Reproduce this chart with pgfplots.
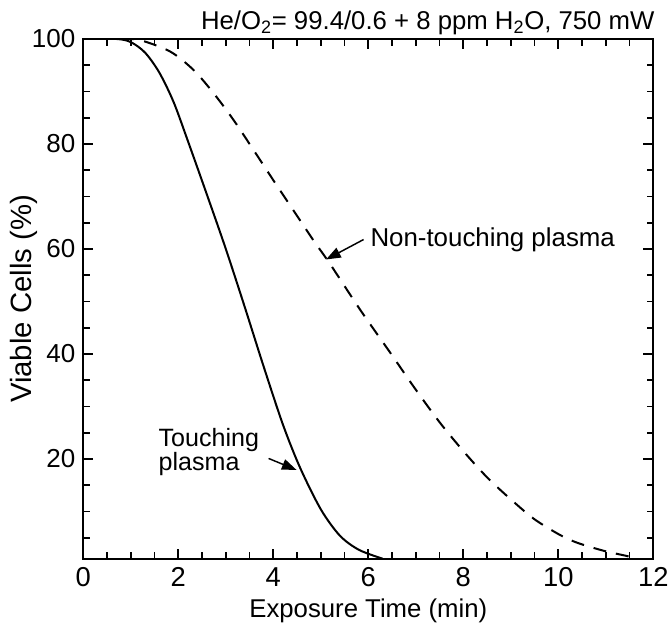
\documentclass[border=0pt]{standalone}
\usepackage{fontspec}
\setmainfont{Liberation Sans}
\usepackage{pgfplots}
\pgfplotsset{compat=1.18}
\usetikzlibrary{arrows.meta}
\begin{document}
\begin{tikzpicture}
\begin{axis}[
  scale only axis, width=427.5pt, height=389.8pt,
  xmin=0, xmax=12, ymin=1, ymax=100,
  clip mode=individual,
  xtick={0,2,...,12}, minor x tick num=3,
  ytick={20,40,60,80,100},
  minor ytick={5,10,15,25,30,35,45,50,55,65,70,75,85,90,95},
  tick align=inside,
  major tick length=7.5pt, minor tick length=5pt,
  axis line style={line width=1.5pt},
  every tick/.style={line width=1.3pt, black},
  /pgf/number format/assume math mode=true,
  yticklabel style={xshift=-2.5pt, font=\fontsize{19.5}{21}\selectfont},
  xticklabel style={yshift=-3pt, font=\fontsize{20.5}{22}\selectfont},
  xlabel={Exposure Time (min)}, ylabel={Viable Cells (\%)},
  every axis x label/.style={at={(rel axis cs:0.5,0)}, yshift=-39pt, anchor=center, font=\fontsize{19.3}{21}\selectfont},
  every axis y label/.style={at={(rel axis cs:0,0.5)}, xshift=-44.5pt, rotate=90, anchor=center, font=\fontsize{22}{24}\selectfont},
]
\addplot[black, line width=1.5pt, smooth] coordinates {
(0,100) (0.7,100) (1.0,99.4) (1.3,97.4) (1.6,93.6) (1.9,88.0) (2.2,80.6) (2.6,70.4) (3.0,60.0) (3.4,48.9) (3.8,37.5) (4.2,26.6) (4.56,18.4) (5.0,10.4) (5.4,5.4) (5.8,2.7) (6.3,1.0)
};
\addplot[black, line width=1.5pt, smooth, dash pattern=on 9.75pt off 7.5pt] coordinates {
(0.8,100) (1.19,99.8) (1.83,97.6) (2.32,94.1) (2.74,89.7) (3.16,84.6) (3.58,78.9) (4.0,73.1) (4.42,67.4) (4.84,61.7) (5.19,57.2) (5.83,48.4) (6.48,40.0) (6.96,33.7) (7.5,27.0) (8.0,21.5) (8.5,16.5) (9.0,12.3) (9.5,8.5) (10.04,5.5) (10.41,4.0) (10.96,2.5) (11.45,1.5) (11.65,1.0)
};
\node[anchor=base west, inner sep=0pt, font=\fontsize{19.4}{21}\selectfont] at (axis cs:6.04,60.4) {Non-touching plasma};
\node[anchor=base west, inner sep=0pt, font=\fontsize{18.8}{20}\selectfont] at (axis cs:1.58,22.4) {Touching};
\node[anchor=base west, inner sep=0pt, font=\fontsize{18.8}{20}\selectfont] at (axis cs:1.58,17.8) {plasma};
\draw[line width=1.1pt, -{Triangle[length=11pt,width=8pt]}] (axis cs:5.9,61.8) -- (axis cs:5.11,58.0);
\draw[line width=1.1pt, -{Triangle[length=11pt,width=8pt]}] (axis cs:3.9,20.1) -- (axis cs:4.49,17.9);
\node[anchor=base east, inner sep=0pt, font=\fontsize{19.3}{21}\selectfont] at ([xshift=1pt,yshift=7pt]rel axis cs:1,1) {He/O\textsubscript{2}= 99.4/0.6 + 8 ppm H\textsubscript{2}O, 750 mW};
\coordinate (bl) at (rel axis cs:0,0);
\coordinate (tr) at (rel axis cs:1,1);
\end{axis}
\pgfresetboundingbox
\path[use as bounding box] ([shift={(-62.5pt,-53.5pt)}]bl) rectangle ([shift={(11pt,29.25pt)}]tr);
\end{tikzpicture}
\end{document}
